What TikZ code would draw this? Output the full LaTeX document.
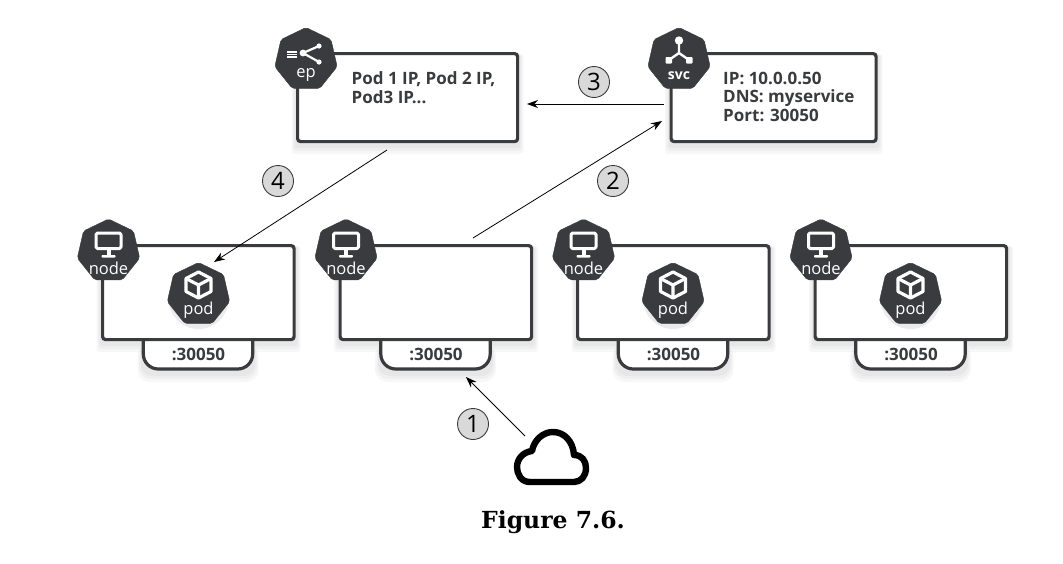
\documentclass[tikz,border=0pt]{standalone}
\usepackage{fontspec}
\setmainfont{Open Sans}
\newfontfamily\capfont{DejaVu Serif}
\usetikzlibrary{shapes.geometric,arrows.meta}
\definecolor{ink}{HTML}{3A3B3E}
\definecolor{badge}{HTML}{D9D9D9}
\tikzset{
  x=1pt,y=-1pt,
  hept/.style={regular polygon,regular polygon sides=7,minimum size=64pt,inner sep=0pt,fill=ink,draw=ink,rounded corners=2pt},
  frame/.style={draw=ink,line width=3.2pt,rounded corners=3pt,fill=white,inner sep=0pt},
  tab/.style={draw=ink,line width=3.2pt,fill=white},
  body/.style={font=\fontsize{17}{18.7}\selectfont\bfseries,text=ink,align=left,inner sep=0pt},
  hlabel/.style={font=\fontsize{16.5}{16.5}\selectfont,text=white,inner sep=0pt},
  num/.style={circle,draw=ink,line width=0.9pt,fill=badge,minimum size=31pt,inner sep=0pt,font=\fontsize{24}{24}\selectfont,text=black},
  conn/.style={draw=black,line width=0.8pt,-{Stealth[length=11pt,width=8pt]}},
  icon/.style={draw=white,line width=3pt,line join=round},
}
\newcommand{\softshadow}[5]{% x1 y1 x2 y2 radius
  \foreach \g in {9,6,3}{\fill[black,opacity=0.03,rounded corners=#5pt] (#1-\g/2,#2+2) rectangle (#3+\g/2,#4+2+\g);}}
\newcommand{\monitor}[2]{\begin{scope}[shift={(#1,#2)}]
  \draw[icon,rounded corners=1.5pt] (-12.5,-17) rectangle (12.5,-1.5);
  \fill[white] (-2,-2) rectangle (2,5.5);
  \fill[white,rounded corners=.8pt] (-7,5) rectangle (7,7.5);
\end{scope}}
\newcommand{\cube}[2]{\begin{scope}[shift={(#1,#2)}]
  \draw[icon,line width=3.2pt] (0,-20.5) -- (12.5,-14) -- (12.5,-1) -- (0,5.5) -- (-12.5,-1) -- (-12.5,-14) -- cycle;
  \draw[icon,line width=3.2pt] (-12.5,-14) -- (0,-7.5) -- (12.5,-14) (0,-7.5) -- (0,5.5);
\end{scope}}
\newcommand{\worker}[3]{% id, box left, pod drawing
  \softshadow{#2}{244}{#2+195}{341}{3}
  \softshadow{#2+41}{342}{#2+153}{371}{12}
  \draw[tab] (#2+42.3,339) -- (#2+42.3,354) arc[start angle=180,end angle=90,radius=15] -- (#2+136.7,369) arc[start angle=90,end angle=0,radius=15] -- (#2+151.7,339);
  \node[frame,minimum width=191.5pt,minimum height=94pt,anchor=north west] (box#1) at (#2,244) {};
  \node[body] (port#1) at (#2+97.5,354.5) {:30050};
  \node[hept] (nd#1) at (#2+7.5,251) {};
  \monitor{#2+7.5}{250}
  \node[hlabel] (ndl#1) at (#2+7.5,268) {node};
  #3
}
\newcommand{\podat}[2]{%
  \fill[black,opacity=0.08] (#2,299) circle (30);
  \node[hept] (pod#1) at (#2,294.5) {};
  \cube{#2}{292.5}
  \node[hlabel] (podl#1) at (#2,310) {pod};
}
\begin{document}
\begin{tikzpicture}
\useasboundingbox[fill=white] (0,0) rectangle (1063,563);
% top boxes
\softshadow{296}{52}{519}{143}{3}
\softshadow{669.5}{52}{878}{143}{3}
\node[frame,minimum width=220pt,minimum height=88pt,anchor=north west] (epbox) at (296,52) {};
\node[frame,minimum width=205pt,minimum height=88pt,anchor=north west] (svcbox) at (669.5,52) {};
\node[body,anchor=north west] (eptext) at (351.5,71.5) {Pod 1 IP, Pod 2 IP,\\Pod3 IP...};
\node[body,anchor=north west] (svctext) at (723,71.5) {IP: 10.0.0.50\\DNS: myservice\\Port: 30050};
\node[hept] (ep) at (306,59.5) {};
\node[hlabel] (eplabel) at (306,75) {ep};
\foreach \a in {52,54.5,57} \draw[white,line width=1.3pt] (287,\a) -- (297,\a);
\draw[white,line width=2.2pt] (319,46) -- (303,53) -- (319,62);
\fill[white] (303,53) circle (3.4) (319,46) circle (2.6) (319,62) circle (2.6);
\node[hept] (svc) at (679,59.5) {};
\node[hlabel,font=\fontsize{14}{14}\selectfont\bfseries] (svclabel) at (679,75.5) {svc};
\draw[white,line width=2.4pt] (679,41) -- (679,53) -- (669,60) (679,53) -- (689,60);
\fill[white] (679,40.5) circle (4.2);
\fill[white,rounded corners=.8pt] (665.5,57) rectangle (672,63.5) (686,57) rectangle (692.5,63.5);
% workers
\worker{1}{101}{\podat{1}{198.5}}
\worker{2}{338.5}{}
\worker{3}{576}{\podat{3}{673}}
\worker{4}{813.5}{\podat{4}{910.5}}
% cloud
\node[inner sep=0pt,minimum size=1pt] (cloud) at (552,458) {};
\draw[black,line width=6.4pt,line join=round,line cap=round]
  (530,482) .. controls (521,482) and (517,474) .. (517,467)
  .. controls (517,459) and (523,452) .. (532,451)
  .. controls (534,440) and (543,432) .. (553,432)
  .. controls (564,432) and (573,441) .. (574,455)
  .. controls (582,455) and (586,461) .. (586,468)
  .. controls (586,476) and (581,482) .. (574,482) -- cycle;
% connector ends
\coordinate (a1s) at (525,436); \coordinate (a1e) at (466,377);
\coordinate (a2s) at (473,238); \coordinate (a2e) at (662,121);
\coordinate (a3s) at (664,104); \coordinate (a3e) at (527,104);
\coordinate (a4s) at (387,150); \coordinate (a4e) at (214,262);
\draw[conn] (a1s) -- (a1e);
\draw[conn] (a2s) -- (a2e);
\draw[conn] (a3s) -- (a3e);
\draw[conn] (a4s) -- (a4e);
\node[num] (n1) at (473,424) {1};
\node[num] (n2) at (613,181) {2};
\node[num] (n3) at (594,82) {3};
\node[num] (n4) at (278,181) {4};
\node[inner sep=0pt,font=\capfont\fontsize{23.5}{23.5}\selectfont\bfseries] (cap) at (553,522) {Figure 7.6.};
\end{tikzpicture}
\end{document}
